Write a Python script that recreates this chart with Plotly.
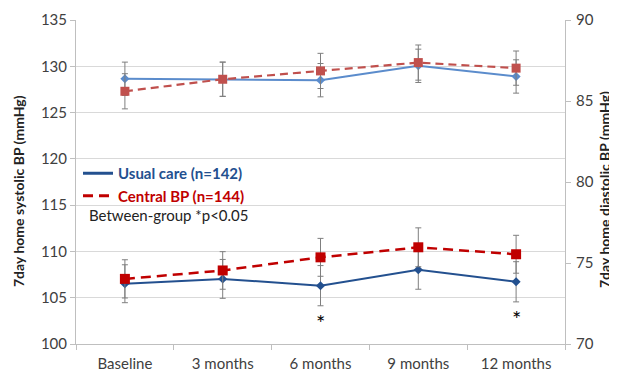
import plotly.graph_objects as go

categories = ["Baseline", "3 months", "6 months", "9 months", "12 months"]

# Systolic (left axis)
sys_usual = [128.65, 128.6, 128.5, 130.05, 128.9]
sys_usual_err = [1.8, 1.85, 1.8, 1.8, 1.8]
sys_central = [127.3, 128.6, 129.5, 130.4, 129.8]
sys_central_err = [1.9, 1.85, 1.9, 1.9, 1.85]

# Diastolic (right axis)
dia_usual = [73.72, 74.02, 73.6, 74.58, 73.84]
dia_usual_err = [1.17, 1.2, 1.24, 1.2, 1.24]
dia_central = [74.02, 74.54, 75.35, 75.97, 75.54]
dia_central_err = [1.18, 1.16, 1.17, 1.2, 1.17]

sig_categories = ["6 months", "12 months"]
sig_y = [71.3, 71.6]

legend_names = ["Usual care (n=142)", "Central BP (n=144)"]

FONT = "Lato"
GRID = "#d9d9d9"
AXIS = "#bfbfbf"
ERR = "#7f7f7f"
NAVY = "#23508f"
RED = "#c00000"

fig = go.Figure()

def add(y, err, color, dash, symbol, msize, width, yaxis):
    fig.add_trace(go.Scatter(
        x=categories, y=y, yaxis=yaxis, mode="lines+markers",
        line=dict(color=color, width=width, dash=dash),
        marker=dict(symbol=symbol, size=msize, color=color),
        error_y=dict(type="data", array=err, color=ERR, thickness=1, width=3),
        showlegend=False, cliponaxis=False,
    ))

add(sys_usual, sys_usual_err, "#5b8ccc", "solid", "diamond", 7, 2, "y")
add(sys_central, sys_central_err, "#c0504d", "8px,5px", "square", 9, 2.2, "y")
add(dia_usual, dia_usual_err, NAVY, "solid", "diamond", 7, 2, "y2")
add(dia_central, dia_central_err, RED, "10px,6px", "square", 10, 2.5, "y2")

# legend-only entries
fig.add_trace(go.Scatter(x=[None], y=[None], mode="lines",
                         name="<b><span style='color:%s'>%s</span></b>" % (NAVY, legend_names[0]),
                         line=dict(color=NAVY, width=3), showlegend=True))
fig.add_trace(go.Scatter(x=[None], y=[None], mode="lines",
                         name="<b><span style='color:%s'>%s</span></b>" % (RED, legend_names[1]),
                         line=dict(color=RED, width=3, dash="10px,6px"), showlegend=True))

# page is offset by the 8px body margin
OFF = 8
PAGE_W, PAGE_H = 617, 373
W, H = PAGE_W - OFF, PAGE_H - OFF
PL, PR, PT, PB = 76, 565, 20, 344  # plot area in page pixels
L, T = PL - OFF, PT - OFF
R, B = W - (PR - OFF), H - (PB - OFF)
pw, ph = PR - PL, PB - PT

def px(xp):
    return (xp - PL) / pw

def py(yp):
    return (PB - yp) / ph

annotations = [
    dict(text="Between-group *p<0.05", x=px(87), y=py(215), xref="paper", yref="paper",
         xanchor="left", yanchor="middle", showarrow=False, font=dict(family=FONT, size=15, color="#222")),
    dict(text="<b>7day home systolic BP (mmHg)</b>", x=px(18), y=py(191), xref="paper", yref="paper",
         xanchor="center", yanchor="middle",
         textangle=-90, showarrow=False, font=dict(family=FONT, size=14, color="#222")),
    dict(text="<b>7day home diastolic BP (mmHg)</b>", x=px(604), y=py(190), xref="paper", yref="paper",
         xanchor="center", yanchor="middle",
         textangle=-90, showarrow=False, font=dict(family=FONT, size=14, color="#222")),
]
for c, yv in zip(sig_categories, sig_y):
    annotations.append(dict(text="*", x=c, y=yv, xref="x", yref="y2", showarrow=False,
                            font=dict(family=FONT, size=22, color="#000000")))

fig.update_layout(
    width=W, height=H,
    margin=dict(l=L, r=R, t=T, b=B, autoexpand=False),
    paper_bgcolor="white", plot_bgcolor="white",
    font=dict(family=FONT, size=15, color="#404040"),
    xaxis=dict(type="category", showgrid=False, showline=True, linecolor=AXIS, linewidth=1,
               ticks="outside", tickson="boundaries", ticklen=5, tickcolor=AXIS,
               tickfont=dict(size=15, color="#404040"), range=[-0.5, 4.5], ticklabelstandoff=6),
    yaxis=dict(range=[100, 135], dtick=5, showgrid=True, gridcolor=GRID, showline=True,
               linecolor=AXIS, ticks="outside", ticklen=5, tickcolor=AXIS,
               tickfont=dict(size=15, color="#404040"), zeroline=False),
    yaxis2=dict(range=[70, 90], dtick=5, overlaying="y", side="right", showgrid=False,
                showline=True, linecolor=AXIS, ticks="outside", ticklen=5, tickcolor=AXIS,
                tickfont=dict(size=15, color="#404040"), zeroline=False, ticklabelstandoff=2),
    legend=dict(x=px(78), y=py(157), xanchor="left", yanchor="top", bgcolor="rgba(0,0,0,0)",
                font=dict(family=FONT, size=15), tracegroupgap=0, itemwidth=30),
    shapes=[dict(type="rect", xref="paper", yref="paper", x0=px(87), x1=px(267), y0=py(222), y1=py(161),
                 fillcolor="white", line=dict(width=0), layer="between")],
    annotations=annotations,
)

fig.write_html("out.html")
